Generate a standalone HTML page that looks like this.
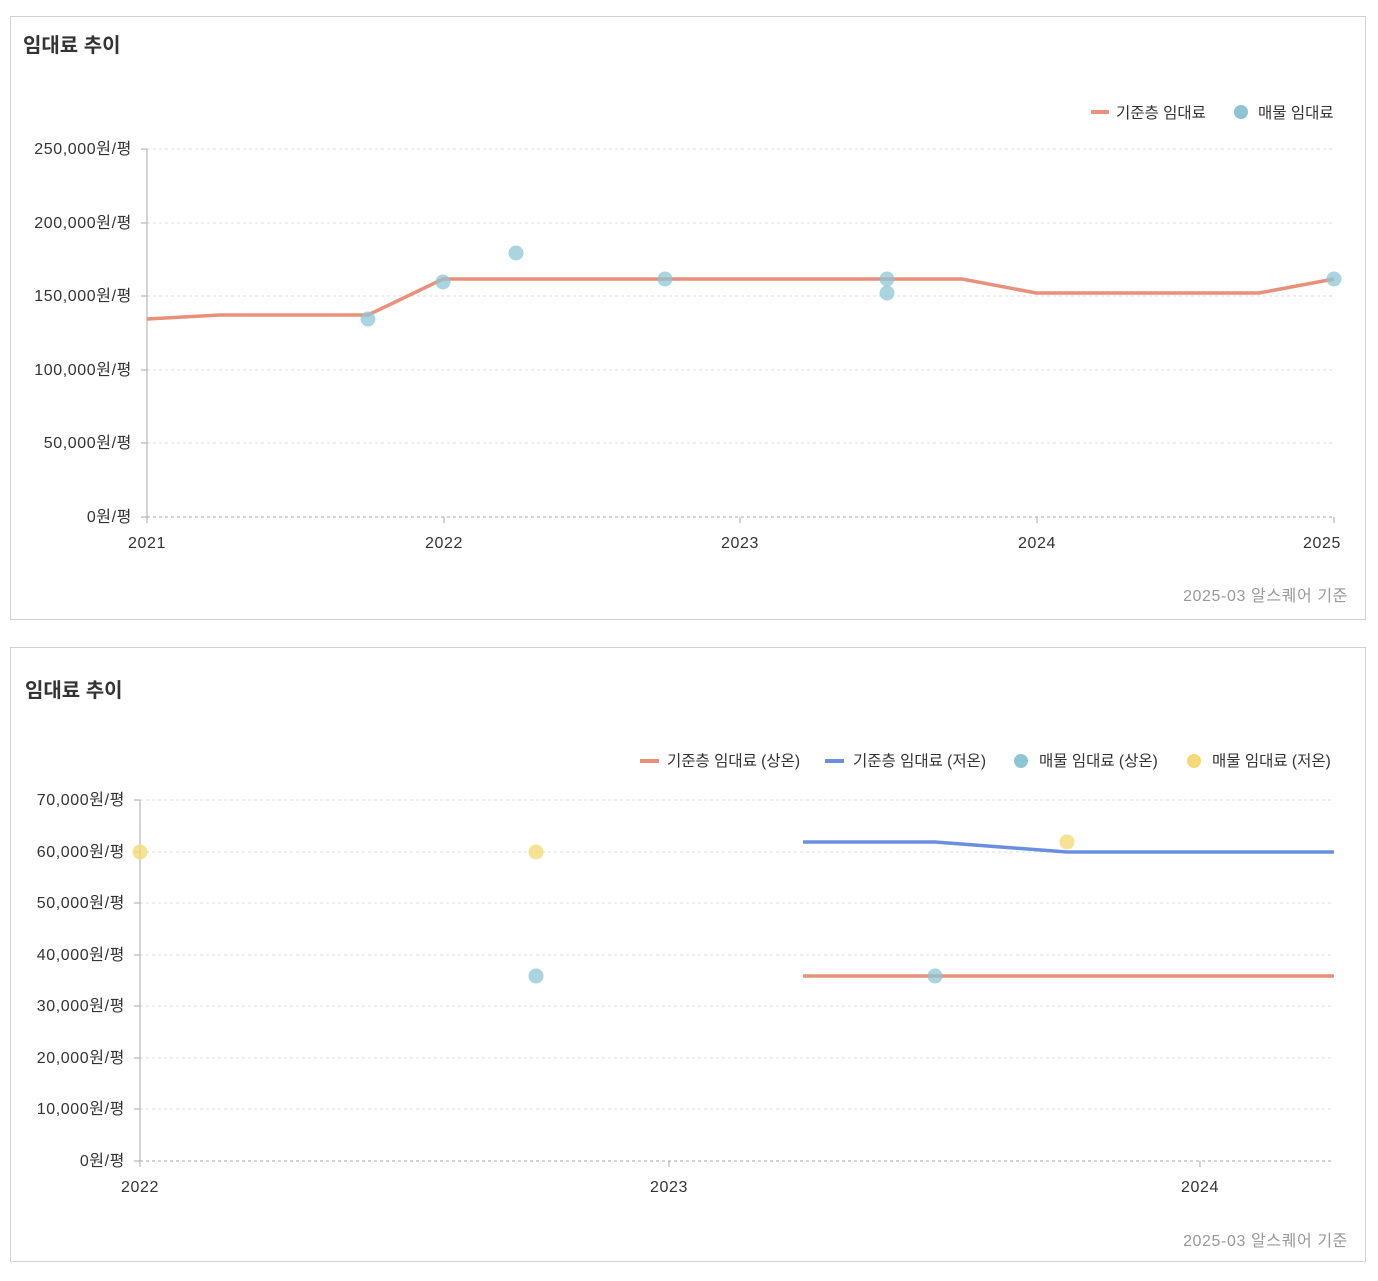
<!DOCTYPE html>
<html><head><meta charset="utf-8"><style>
body{margin:0;background:#fff;font-family:"Liberation Sans","Noto Sans CJK KR",sans-serif;}
svg text{font-family:"Liberation Sans","Noto Sans CJK KR",sans-serif;}
.yl{letter-spacing:0.6px}
</style></head><body>
<svg width="1378" height="1276" xmlns="http://www.w3.org/2000/svg">
<!-- Chart 1 -->
<rect x="10.5" y="16.5" width="1355" height="603" fill="#fff" stroke="#d0d0d0"/>
<text x="23" y="52" font-size="20" font-weight="bold" fill="#333">임대료 추이</text>
<line x1="1091" y1="112" x2="1109" y2="112" stroke="#e8907a" stroke-width="4"/>
<text x="1116" y="118" font-size="15.5" fill="#333">기준층 임대료</text>
<circle cx="1241" cy="112" r="7" fill="#8ec5d4"/>
<text x="1258" y="118" font-size="15.5" fill="#333">매물 임대료</text>
<g stroke="#ddd" stroke-dasharray="3,3">
<line x1="147" y1="149" x2="1334" y2="149"/><line x1="147" y1="223" x2="1334" y2="223"/>
<line x1="147" y1="296" x2="1334" y2="296"/><line x1="147" y1="370" x2="1334" y2="370"/>
<line x1="147" y1="443" x2="1334" y2="443"/><line x1="147" y1="517" x2="1334" y2="517" stroke="#aaa"/>
</g>
<line x1="147" y1="149" x2="147" y2="517" stroke="#aaa"/>
<g stroke="#aaa"><line x1="141" y1="149" x2="147" y2="149"/><line x1="141" y1="223" x2="147" y2="223"/><line x1="141" y1="296" x2="147" y2="296"/><line x1="141" y1="370" x2="147" y2="370"/><line x1="141" y1="443" x2="147" y2="443"/><line x1="141" y1="517" x2="147" y2="517"/>
<line x1="147" y1="517" x2="147" y2="523"/><line x1="444" y1="517" x2="444" y2="523"/><line x1="740" y1="517" x2="740" y2="523"/><line x1="1037" y1="517" x2="1037" y2="523"/><line x1="1334" y1="517" x2="1334" y2="523"/></g>
<g font-size="16" fill="#333" text-anchor="end" class="yl">
<text x="132" y="154">250,000원/평</text><text x="132" y="228">200,000원/평</text><text x="132" y="301">150,000원/평</text><text x="132" y="375">100,000원/평</text><text x="132" y="448">50,000원/평</text><text x="132" y="522">0원/평</text></g>
<g font-size="16" fill="#333" text-anchor="middle" class="yl">
<text x="147" y="548">2021</text><text x="444" y="548">2022</text><text x="740" y="548">2023</text><text x="1037" y="548">2024</text><text x="1322" y="548">2025</text></g>
<polyline points="147,319 220,315 368,315 443,279 962,279 1036,293 1259,293 1334,279" fill="none" stroke="#e8907a" stroke-width="3.5"/>
<g fill="#8ec5d4" fill-opacity="0.75">
<circle cx="368" cy="319" r="7.5"/><circle cx="443" cy="282" r="7.5"/><circle cx="516" cy="253" r="7.5"/><circle cx="665" cy="279" r="7.5"/><circle cx="887" cy="279" r="7.5"/><circle cx="887" cy="293" r="7.5"/><circle cx="1334" cy="279" r="7.5"/></g>
<text x="1348" y="601" font-size="16" fill="#999" text-anchor="end" class="yl">2025-03 알스퀘어 기준</text>

<!-- Chart 2 -->
<rect x="10.5" y="647.5" width="1355" height="614" fill="#fff" stroke="#d0d0d0"/>
<text x="25" y="697" font-size="20" font-weight="bold" fill="#333">임대료 추이</text>
<line x1="640" y1="761" x2="659" y2="761" stroke="#e8907a" stroke-width="4"/>
<text x="667" y="766" font-size="15.5" fill="#333">기준층 임대료 (상온)</text>
<line x1="825" y1="761" x2="844" y2="761" stroke="#6b8fe0" stroke-width="4"/>
<text x="853" y="766" font-size="15.5" fill="#333">기준층 임대료 (저온)</text>
<circle cx="1021" cy="761" r="7" fill="#8ec5d4"/>
<text x="1039" y="766" font-size="15.5" fill="#333">매물 임대료 (상온)</text>
<circle cx="1194" cy="761" r="7" fill="#f5d977"/>
<text x="1212" y="766" font-size="15.5" fill="#333">매물 임대료 (저온)</text>
<g stroke="#ddd" stroke-dasharray="3,3">
<line x1="140" y1="800" x2="1334" y2="800"/><line x1="140" y1="852" x2="1334" y2="852"/><line x1="140" y1="903" x2="1334" y2="903"/><line x1="140" y1="955" x2="1334" y2="955"/><line x1="140" y1="1006" x2="1334" y2="1006"/><line x1="140" y1="1058" x2="1334" y2="1058"/><line x1="140" y1="1109" x2="1334" y2="1109"/><line x1="140" y1="1161" x2="1334" y2="1161" stroke="#aaa"/></g>
<line x1="140" y1="800" x2="140" y2="1161" stroke="#aaa"/>
<g stroke="#aaa"><line x1="134" y1="800" x2="140" y2="800"/><line x1="134" y1="852" x2="140" y2="852"/><line x1="134" y1="903" x2="140" y2="903"/><line x1="134" y1="955" x2="140" y2="955"/><line x1="134" y1="1006" x2="140" y2="1006"/><line x1="134" y1="1058" x2="140" y2="1058"/><line x1="134" y1="1109" x2="140" y2="1109"/><line x1="134" y1="1161" x2="140" y2="1161"/>
<line x1="140" y1="1161" x2="140" y2="1167"/><line x1="669" y1="1161" x2="669" y2="1167"/><line x1="1200" y1="1161" x2="1200" y2="1167"/></g>
<g font-size="16" fill="#333" text-anchor="end" class="yl">
<text x="125" y="805">70,000원/평</text><text x="125" y="857">60,000원/평</text><text x="125" y="908">50,000원/평</text><text x="125" y="960">40,000원/평</text><text x="125" y="1011">30,000원/평</text><text x="125" y="1063">20,000원/평</text><text x="125" y="1114">10,000원/평</text><text x="125" y="1166">0원/평</text></g>
<g font-size="16" fill="#333" text-anchor="middle" class="yl">
<text x="140" y="1192">2022</text><text x="669" y="1192">2023</text><text x="1200" y="1192">2024</text></g>
<polyline points="803,842 935,842 1067,852 1334,852" fill="none" stroke="#6b8fe0" stroke-width="3.5"/>
<polyline points="803,976 1334,976" fill="none" stroke="#e8907a" stroke-width="3.5"/>
<g fill="#f5d977" fill-opacity="0.8"><circle cx="140" cy="852" r="7.5"/><circle cx="536" cy="852" r="7.5"/><circle cx="1067" cy="842" r="7.5"/></g>
<g fill="#8ec5d4" fill-opacity="0.75"><circle cx="536" cy="976" r="7.5"/><circle cx="935" cy="976" r="7.5"/></g>
<text x="1348" y="1246" font-size="16" fill="#999" text-anchor="end" class="yl">2025-03 알스퀘어 기준</text>
</svg>
</body></html>
